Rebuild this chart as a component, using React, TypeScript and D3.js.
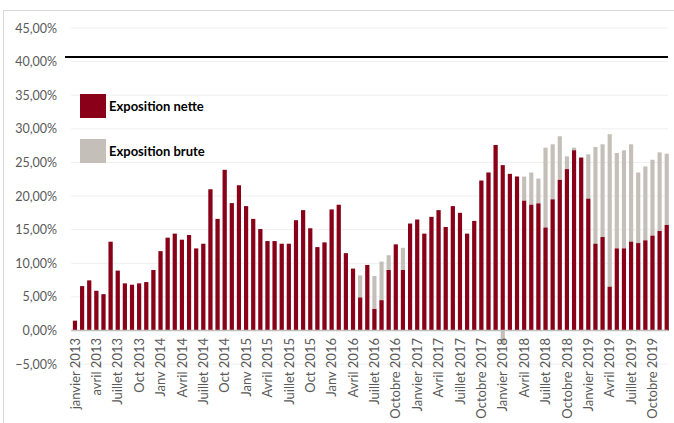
import React, { useEffect, useRef } from 'react';
import * as d3 from 'd3';

// monthly, janvier 2013 -> décembre 2019
const years = [2013, 2014, 2015, 2016, 2017, 2018, 2019];

const nette = [
  1.45, 6.6, 7.45, 5.9, 5.4, 13.2, 8.9, 7.0, 6.8, 7.0, 7.2, 9.0,
  11.8, 13.8, 14.4, 13.5, 14.2, 12.2, 12.9, 21.0, 16.6, 23.9, 18.95, 21.6,
  18.5, 16.6, 15.1, 13.3, 13.3, 12.9, 12.9, 16.4, 17.9, 15.2, 12.4, 13.1,
  18.0, 18.7, 11.5, 9.2, 4.9, 9.75, 3.2, 4.5, 9.0, 12.8, 9.0, 15.9,
  16.5, 14.4, 16.9, 17.9, 15.4, 18.5, 17.5, 14.4, 16.3, 22.3, 23.5, 27.6,
  24.6, 23.3, 22.9, 19.3, 18.7, 18.9, 15.3, 19.5, 22.4, 24.0, 26.8, 25.7,
  19.6, 12.9, 13.9, 6.5, 12.2, 12.2, 13.2, 13.0, 13.4, 14.1, 14.8, 15.7,
];

const brute = [
  1.45, 6.6, 7.45, 5.9, 5.4, 13.2, 8.9, 7.0, 6.8, 7.0, 7.2, 9.0,
  11.8, 13.8, 14.4, 13.5, 14.2, 12.2, 12.9, 21.0, 16.6, 23.9, 18.95, 21.6,
  18.5, 16.6, 15.1, 13.3, 13.3, 12.9, 12.9, 16.4, 17.9, 15.2, 12.4, 13.1,
  18.0, 18.7, 11.5, 9.2, 8.2, 9.75, 8.1, 10.25, 11.2, 12.8, 12.3, 15.9,
  16.5, 14.4, 16.9, 17.9, 15.4, 18.5, 17.5, 14.4, 16.3, 22.3, 23.5, 27.6,
  -1.9, 23.3, 22.9, 22.9, 23.5, 22.6, 27.2, 27.7, 28.9, 25.9, 27.2, 25.8,
  26.2, 27.3, 27.7, 29.2, 26.4, 26.8, 27.7, 23.5, 24.4, 25.4, 26.5, 26.3,
];

// one label every 3 months
const tickLabels = [
  'janvier 2013', 'avril 2013', 'Juillet 2013', 'Oct 2013',
  'Janv 2014', 'Avril 2014', 'Juillet 2014', 'Oct 2014',
  'Janv 2015', 'Avril 2015', 'Juillet 2015', 'Oct 2015',
  'Janv 2016', 'Avril 2016', 'Juillet 2016', 'Octobre 2016',
  'Janvier 2017', 'Avril 2017', 'Juillet 2017', 'Octobre 2017',
  'Janvier 2018', 'Avril 2018', 'Juillet 2018', 'Octobre 2018',
  'Janvier 2019', 'Avril 2019', 'Juillet 2019', 'Octobre 2019',
];

const yTicks = [-5, 0, 5, 10, 15, 20, 25, 30, 35, 40, 45];
const limite = 40.7;

const RED = '#8a0019';
const GREY = '#c4bfb8';
const FONT = 'Lato, "Open Sans", sans-serif';

const App = () => {
  const svgRef = useRef(null);

  useEffect(() => {
    const svg = d3.select(svgRef.current);
    svg.selectAll('*').remove();

    const width = 674;
    const height = 423;
    const months = d3.range(years.length * 12);

    svg.attr('width', width).attr('height', height);

    // frame
    svg.append('rect')
      .attr('x', 3.5).attr('y', 10.5)
      .attr('width', 700).attr('height', 440)
      .attr('fill', '#fff')
      .attr('stroke', '#d9d9d9');

    const x = d3.scaleBand()
      .domain(months)
      .range([71.4, 670.3])
      .paddingInner(0.42)
      .paddingOuter(0.21);

    const y = d3.scaleLinear()
      .domain([-5, 45])
      .range([364.1, 28]);

    // grid
    svg.append('g')
      .selectAll('line')
      .data(yTicks.filter(d => d !== 0))
      .join('line')
      .attr('x1', 71).attr('x2', 668)
      .attr('y1', d => y(d)).attr('y2', d => y(d))
      .attr('stroke', '#efefef')
      .attr('stroke-width', 1);

    // y labels
    svg.append('g')
      .selectAll('text')
      .data(yTicks)
      .join('text')
      .attr('x', 57)
      .attr('y', d => y(d))
      .attr('dy', '0.36em')
      .attr('text-anchor', 'end')
      .attr('font-family', FONT)
      .attr('font-size', 12.5)
      .attr('fill', '#595959')
      .text(d => d3.format('.2f')(d).replace('.', ',') + '%');

    // gross behind, net on top
    svg.append('g')
      .attr('fill', GREY)
      .selectAll('rect')
      .data(months)
      .join('rect')
      .attr('x', i => x(i))
      .attr('width', x.bandwidth())
      .attr('y', i => y(Math.max(0, brute[i])))
      .attr('height', i => Math.abs(y(brute[i]) - y(0)));

    svg.append('g')
      .attr('fill', RED)
      .selectAll('rect')
      .data(months)
      .join('rect')
      .attr('x', i => x(i))
      .attr('width', x.bandwidth())
      .attr('y', i => y(Math.max(0, nette[i])))
      .attr('height', i => Math.abs(y(nette[i]) - y(0)));

    // zero axis
    svg.append('line')
      .attr('x1', 71).attr('x2', 668)
      .attr('y1', y(0)).attr('y2', y(0))
      .attr('stroke', '#bfbfbf')
      .attr('stroke-width', 1.5);

    // limit line
    svg.append('line')
      .attr('x1', 65).attr('x2', 668)
      .attr('y1', y(limite)).attr('y2', y(limite))
      .attr('stroke', '#000')
      .attr('stroke-width', 2);

    // x labels
    svg.append('g')
      .selectAll('text')
      .data(tickLabels)
      .join('text')
      .attr('transform', (d, i) => `translate(${x(i * 3) + x.bandwidth() / 2},338) rotate(-90)`)
      .attr('dy', '0.36em')
      .attr('text-anchor', 'end')
      .attr('font-family', FONT)
      .attr('font-size', 13)
      .attr('fill', '#595959')
      .text(d => d);

    // legend
    const legend = [
      { label: 'Exposition nette', color: RED, y: 94 },
      { label: 'Exposition brute', color: GREY, y: 139 },
    ];
    const lg = svg.append('g');
    lg.selectAll('rect')
      .data(legend)
      .join('rect')
      .attr('x', 80).attr('y', d => d.y)
      .attr('width', 26).attr('height', 24)
      .attr('fill', d => d.color);
    lg.selectAll('text')
      .data(legend)
      .join('text')
      .attr('x', 109).attr('y', d => d.y + 12)
      .attr('dy', '0.36em')
      .attr('font-family', FONT)
      .attr('font-weight', 'bold')
      .attr('font-size', 13)
      .attr('fill', '#000')
      .text(d => d.label);
  }, []);

  return <svg ref={svgRef} style={{ position: 'absolute', left: 0, top: 0 }}></svg>;
};

export default App;
